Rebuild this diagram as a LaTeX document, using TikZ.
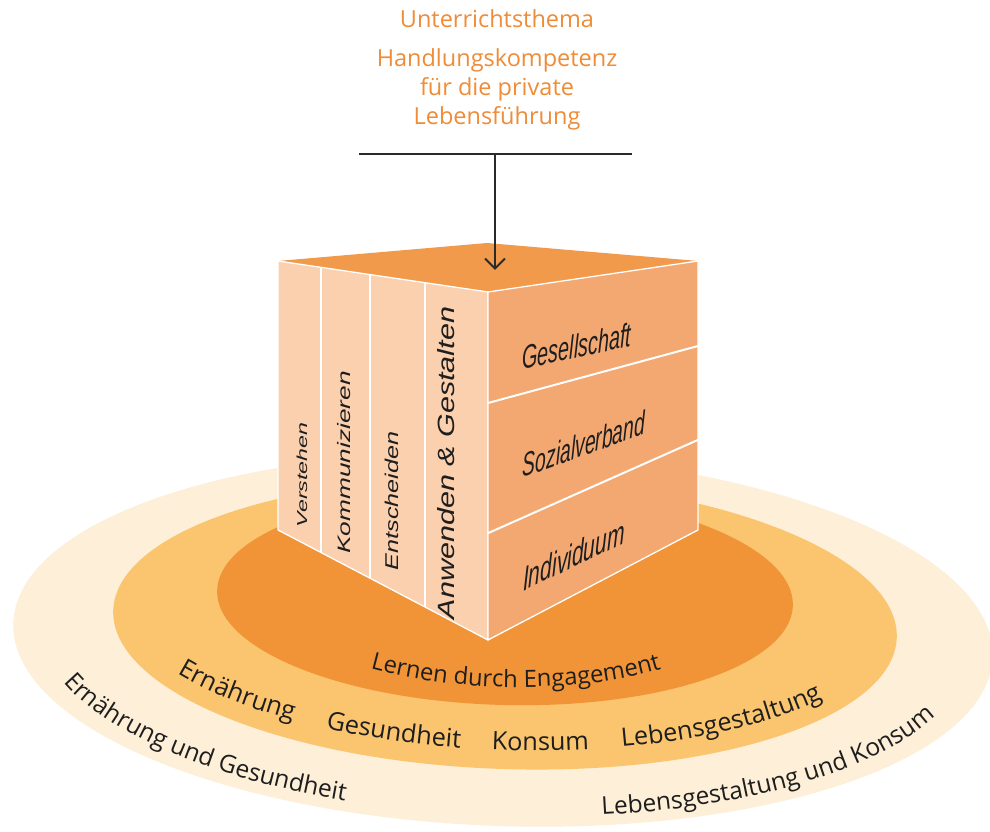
\documentclass[tikz,border=0pt]{standalone}
\usepackage{fontspec}
\setmainfont{Open Sans}
\newfontfamily\cubefont{Liberation Sans}
\usetikzlibrary{arrows.meta,calc,decorations.text}
\definecolor{ringouter}{HTML}{FDEFD8}
\definecolor{ringmid}{HTML}{FAC56E}
\definecolor{ringinner}{HTML}{F09437}
\definecolor{topface}{HTML}{F29A4C}
\definecolor{leftface}{HTML}{FBD0AF}
\definecolor{rightface}{HTML}{F3A872}
\definecolor{titleorange}{HTML}{EF8C37}
\definecolor{ink}{HTML}{2A2A2A}
\definecolor{labelink}{HTML}{1E1E1E}
\newcommand\rngfont{\fontsize{25.3}{28}\selectfont}
\newcommand\outfont{\fontsize{24.5}{28}\selectfont}
\newcommand\innfont{\fontsize{23.8}{28}\selectfont}
\begin{document}
\begin{tikzpicture}[x=1pt,y=1pt,
  titletext/.style={inner sep=0pt, text=titleorange, font=\fontsize{23.5}{29}\selectfont},
  cubelabel/.style={inner sep=0pt, text=labelink},
  edgeline/.style={draw=white, line width=1.3pt, line join=round},
  divider/.style={draw=white, line width=2pt},
  ringtext/.style={decorate, decoration={text along path, text align=left, text color=labelink}}]
\useasboundingbox (0,0) rectangle (990,832);
\fill[white] (0,0) rectangle (990,832);

% rings
\fill[ringouter, rotate around={-2:(503,192)}] (503,192) ellipse [x radius=490, y radius=186];
\fill[ringmid, rotate around={-2:(505,208)}] (505,208) ellipse [x radius=392, y radius=145];
\fill[ringinner, rotate around={-1.5:(505,234)}] (505,234) ellipse [x radius=288, y radius=107];

% cube corners
\coordinate (tl) at (278,571);
\coordinate (tb) at (487,589);
\coordinate (tr) at (698,571);
\coordinate (tf) at (488,540);
\coordinate (bl) at (278,302);
\coordinate (bf) at (488,192);
\coordinate (br) at (698,302);

\fill[topface] (tl) -- (tb) -- (tr) -- (tf) -- cycle;
\filldraw[fill=leftface, edgeline] (tl) -- (tf) -- (bf) -- (bl) -- cycle;
\filldraw[fill=rightface, edgeline] (tf) -- (tr) -- (br) -- (bf) -- cycle;

% left face columns
\draw[divider] ($(tl)!.205!(tf)$) -- ($(bl)!.205!(bf)$);
\draw[divider] ($(tl)!.438!(tf)$) -- ($(bl)!.438!(bf)$);
\draw[divider] ($(tl)!.700!(tf)$) -- ($(bl)!.700!(bf)$);
% right face bands
\draw[divider] ($(tf)!.319!(bf)$) -- ($(tr)!.316!(br)$);
\draw[divider] ($(tf)!.693!(bf)$) -- ($(tr)!.665!(br)$);

% top titles
\node[titletext, anchor=base] (topic) at (497,804) {Unterrichtsthema};
\node[titletext, anchor=base, align=center] (goal) at (497,707) {Handlungskompetenz\\für die private\\Lebensführung};

% bar and arrow
\coordinate (barL) at (359,678);
\coordinate (barR) at (632,678);
\coordinate (barM) at (495,678);
\coordinate (tip) at (495,562);
\draw[ink, line width=2pt] (barL) -- (barR);
\draw[ink, line width=2pt, -{Straight Barb[length=10pt,width=20pt]}] (barM) -- (tip);

% left face labels
\node[cubelabel, font=\cubefont\itshape\fontsize{14.5}{14.5}\selectfont, rotate=90, xscale=1.6] (verstehen) at (302,357) {Verstehen};
\node[cubelabel, font=\cubefont\itshape\fontsize{18}{18}\selectfont, rotate=90, xscale=1.46] (kommunizieren) at (344,369.5) {Kommunizieren};
\node[cubelabel, font=\cubefont\itshape\fontsize{18.5}{18.5}\selectfont, rotate=90, xscale=1.36] (entscheiden) at (392,331) {Entscheiden};
\node[cubelabel, font=\cubefont\itshape\fontsize{23.5}{23.5}\selectfont, rotate=90, xscale=1.3] (anwenden) at (446,369) {Anwenden \& Gestalten};

% right face labels
\node[cubelabel, font=\cubefont\itshape\fontsize{33}{33}\selectfont, yslant=0.22, xscale=0.6] (gesellschaft) at (577,486) {Gesellschaft};
\node[cubelabel, font=\cubefont\itshape\fontsize{33}{33}\selectfont, yslant=0.36, xscale=0.585] (sozialverband) at (584,388) {Sozialverband};
\node[cubelabel, font=\cubefont\itshape\fontsize{34}{34}\selectfont, yslant=0.47, xscale=0.62] (individuum) at (574,277) {Individuum};

% inner ring text
\path[rotate around={-1.5:(505,234)}, ringtext, decoration={text={|\innfont|Lernen durch Engagement}}]
  (505,234) ++(236.4:240pt and 89pt) arc[start angle=236.4, end angle=335, x radius=240pt, y radius=89pt];

% middle ring texts
\path[rotate around={-2:(505,229)}, ringtext, decoration={text={|\rngfont|Ernährung}}]
  (505,229) ++(214:392pt and 147pt) arc[start angle=214, end angle=255, x radius=392pt, y radius=147pt];
\path[rotate around={-2:(505,229)}, ringtext, decoration={text={|\rngfont|Gesundheit}}]
  (505,229) ++(243.5:392pt and 147pt) arc[start angle=243.5, end angle=290, x radius=392pt, y radius=147pt];
\path[rotate around={-2:(505,229)}, ringtext, decoration={text={|\rngfont|Konsum}}]
  (505,229) ++(268.8:392pt and 147pt) arc[start angle=268.8, end angle=305, x radius=392pt, y radius=147pt];
\path[rotate around={-2:(505,229)}, ringtext, decoration={text={|\rngfont|Lebensgestaltung}}]
  (505,229) ++(288.1:392pt and 147pt) arc[start angle=288.1, end angle=355, x radius=392pt, y radius=147pt];

% outer ring texts
\path[rotate around={-2:(503,192)}, ringtext, decoration={text={|\outfont|Ernährung und Gesundheit}}]
  (503,192) ++(199:463pt and 176pt) arc[start angle=199, end angle=275, x radius=463pt, y radius=176pt];
\path[rotate around={-2:(503,192)}, ringtext, decoration={text={|\outfont|Lebensgestaltung und Konsum}}]
  (503,192) ++(283.1:463pt and 176pt) arc[start angle=283.1, end angle=359, x radius=463pt, y radius=176pt];
\end{tikzpicture}
\end{document}
